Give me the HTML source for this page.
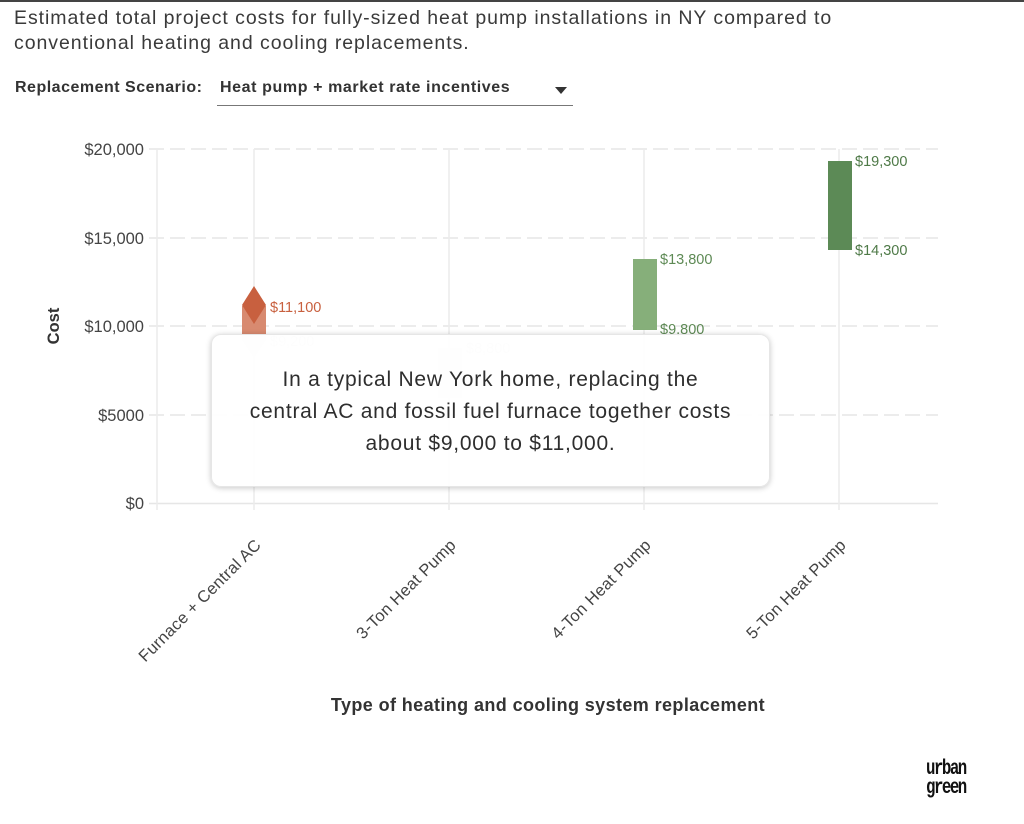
<!DOCTYPE html>
<html><head><style>
body{margin:0;width:1024px;height:824px;background:#fff;font-family:"Liberation Sans",sans-serif;overflow:hidden;position:relative;color:#333}
.top{position:absolute;left:0;top:0;width:1024px;height:2px;background:#444}
.title{position:absolute;left:14px;top:6px;font-size:19.5px;letter-spacing:0.95px;line-height:25px;color:#3a3a3a;white-space:nowrap}
.lab{position:absolute;left:15px;top:79px;font-size:16px;letter-spacing:0.5px;font-weight:bold;color:#333}
.sel{position:absolute;left:220px;top:79px;font-size:16px;letter-spacing:0.6px;font-weight:bold;color:#333}
.ul{position:absolute;left:217px;top:105px;width:356px;height:1px;background:#777}
.tip{position:absolute;left:211px;top:334px;width:559px;height:153px;background:rgba(255,255,255,0.93);border-radius:10px;box-shadow:0 1px 6px rgba(0,0,0,.22);box-sizing:border-box;border:1px solid #e6e6e6;text-align:center;font-size:21px;letter-spacing:0.75px;line-height:32px;color:#2e2e2e;padding-top:29px;white-space:nowrap}
.logo{position:absolute;left:926px;top:760px;font-family:"Liberation Mono",monospace;font-weight:bold;font-size:21px;line-height:19px;letter-spacing:-2px;color:#111;transform:scaleX(.75);transform-origin:left}
</style></head><body>
<div class="top"></div>
<div class="title">Estimated total project costs for fully-sized heat pump installations in NY compared to<br>conventional heating and cooling replacements.</div>
<div class="lab">Replacement Scenario:</div>
<div class="sel">Heat pump + market rate incentives</div>
<div class="ul"></div>
<svg width="1024" height="824" style="position:absolute;left:0;top:0" font-family="Liberation Sans, sans-serif">
<polygon points="555,87 567,87 561,94" fill="#333"/>
<g stroke="#e6e6e6" stroke-width="1.5" stroke-dasharray="15,6">
<line x1="149" y1="149" x2="938" y2="149"/><line x1="149" y1="238" x2="938" y2="238"/><line x1="149" y1="326" x2="938" y2="326"/><line x1="149" y1="415" x2="938" y2="415"/></g>
<line x1="149" y1="503.5" x2="938" y2="503.5" stroke="#e6e6e6" stroke-width="1.5"/>
<g stroke="#ececec" stroke-width="1.5"><line x1="157" y1="149" x2="157" y2="510"/><line x1="254" y1="149" x2="254" y2="510"/><line x1="449" y1="149" x2="449" y2="510"/><line x1="644" y1="149" x2="644" y2="510"/><line x1="839" y1="149" x2="839" y2="510"/></g>
<g font-size="16.5" fill="#444" text-anchor="end"><text x="144" y="155">$20,000</text><text x="144" y="244">$15,000</text><text x="144" y="332">$10,000</text><text x="144" y="421">$5000</text><text x="144" y="509">$0</text></g>
<text transform="translate(59,326) rotate(-90)" text-anchor="middle" font-size="16.5" font-weight="bold" fill="#333">Cost</text>
<polygon points="242,334 266,334 266,340 254,358 242,340" fill="#e6e6e6"/>
<rect x="242" y="306" width="24" height="28" fill="#d88a70"/>
<polygon points="254,286 266,305 254,324 242,305" fill="#c8603f"/>
<text x="270" y="312" font-size="14.5" fill="#c8603f">$11,100</text>
<text x="270" y="346" font-size="14.5" fill="#e4e4e4">$9,200</text>
<rect x="438" y="348" width="24" height="50" fill="#efefef"/>
<text x="466" y="353" font-size="14.5" fill="#e0e0e0">$8,800</text>
<rect x="633" y="259" width="24" height="71" fill="#86af7a"/>
<text x="660" y="264" font-size="14.5" fill="#5e8a55">$13,800</text>
<text x="660" y="334" font-size="14.5" fill="#5e8a55">$9,800</text>
<rect x="828" y="161" width="24" height="89" fill="#5c8a56"/>
<text x="855" y="166" font-size="14.5" fill="#4f7a48">$19,300</text>
<text x="855" y="255" font-size="14.5" fill="#4f7a48">$14,300</text>
<g font-size="16.5" fill="#444" text-anchor="end" letter-spacing="0.3">
<text transform="translate(262,546) rotate(-45)">Furnace + Central AC</text>
<text transform="translate(457,546) rotate(-45)">3-Ton Heat Pump</text>
<text transform="translate(652,546) rotate(-45)">4-Ton Heat Pump</text>
<text transform="translate(847,546) rotate(-45)">5-Ton Heat Pump</text></g>
<text x="548" y="711" text-anchor="middle" font-size="18" letter-spacing="0.4" font-weight="bold" fill="#333">Type of heating and cooling system replacement</text>
</svg>
<div class="tip">In a typical New York home, replacing the<br>central AC and fossil fuel furnace together costs<br>about $9,000 to $11,000.</div>
<div class="logo">urban<br>green</div>
</body></html>
